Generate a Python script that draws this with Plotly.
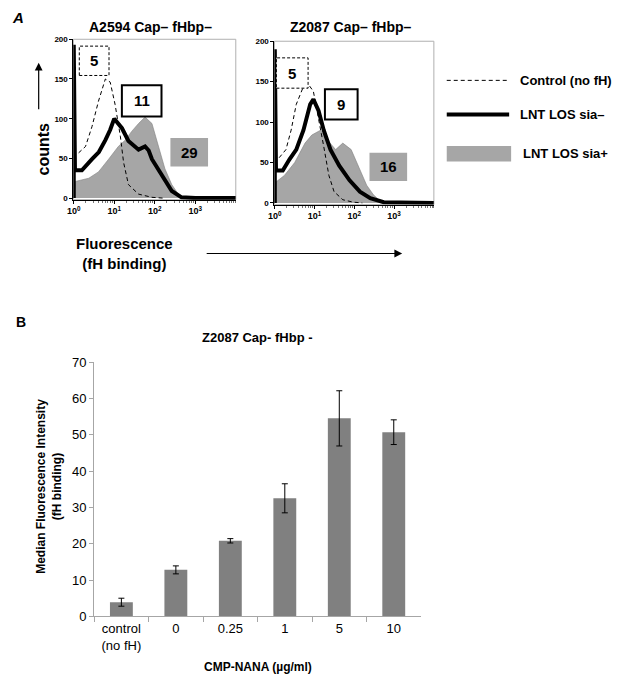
import numpy as np
import plotly.graph_objects as go

# ---- Panel A: flow cytometry histograms (x = log10 fluorescence decade, y = counts) ----
# A2594 Cap- fHbp-
sia_neg_L_pos = [0, 0, 0.03, 0.2, 0.45, 0.62, 0.78, 0.9, 1.0, 1.1, 1.19, 1.35, 1.5, 1.6, 1.76, 1.85, 1.93, 2.17, 2.42, 2.66, 3.0, 4.0]
sia_neg_L_cnt = [0, 193, 35, 35, 49, 58, 73, 86, 100, 94, 88, 72, 66, 61, 65, 60, 49, 29, 9, 1, 0, 0]
ctrl_L_pos = [0.12, 0.29, 0.45, 0.61, 0.78, 0.9, 1.02, 1.15, 1.23, 1.35, 1.6, 1.93, 2.2]
ctrl_L_cnt = [57, 65, 90, 122, 150, 146, 118, 78, 45, 17, 5, 1, 0]
sia_pos_L_pos = [0, 0.04, 0.37, 0.61, 0.86, 1.1, 1.27, 1.43, 1.6, 1.76, 1.93, 2.09, 2.25, 2.42, 2.58, 2.75]
sia_pos_L_cnt = [0, 21, 25, 33, 49, 65, 73, 84, 94, 102, 94, 65, 37, 17, 5, 0]

# Z2087 Cap- fHbp-
sia_neg_R_pos = [0, 0, 0.03, 0.2, 0.37, 0.54, 0.72, 0.89, 0.97, 1.1, 1.23, 1.4, 1.62, 1.88, 2.14, 2.4, 2.74, 4.0]
sia_neg_R_cnt = [0, 190, 40, 40, 54, 66, 90, 122, 128, 114, 90, 66, 46, 28, 14, 6, 1, 0]
ctrl_R_pos = [0.11, 0.28, 0.41, 0.54, 0.72, 0.84, 0.97, 1.1, 1.23, 1.36, 1.49, 1.71, 1.97, 2.2]
ctrl_R_cnt = [56, 66, 90, 122, 144, 147, 138, 106, 70, 34, 14, 4, 1, 0]
sia_pos_R_pos = [0, 0.03, 0.24, 0.5, 0.76, 0.93, 1.15, 1.32, 1.53, 1.71, 1.92, 2.14, 2.31, 2.48, 2.66, 2.8]
sia_pos_R_cnt = [0, 26, 34, 50, 74, 84, 90, 78, 66, 74, 66, 42, 22, 10, 2, 0]

median_L = ["5", "11", "29"]
median_R = ["5", "9", "16"]
decade_ticks = [1, 10, 100, 1000]
decade_labels = ["10<sup>0</sup>", "10<sup>1</sup>", "10<sup>2</sup>", "10<sup>3</sup>"]

# ---- Panel B: bar chart ----
cmp_nana = ["control<br>(no fH)", "0", "0.25", "1", "5", "10"]
mfi = [3.9, 12.8, 20.8, 32.5, 54.5, 50.7]
mfi_err = [1.1, 1.1, 0.6, 4.0, 7.6, 3.4]

W, H = 628, 686
FONT = "Arial, Liberation Sans, sans-serif"
GRAY_FILL = "#a6a6a6"


def px(x):
    return x / W


def py(y):
    return 1 - y / H


fig = go.Figure()


def add_hist(xa, ya, pos_neg, cnt_neg, pos_ctrl, cnt_ctrl, pos_pos, cnt_pos):
    fig.add_trace(go.Scatter(x=np.power(10.0, pos_pos), y=cnt_pos, mode="lines",
                             fill="tozeroy", fillcolor=GRAY_FILL,
                             line=dict(color="#808080", width=0.6),
                             xaxis=xa, yaxis=ya, showlegend=False, hoverinfo="skip"))
    fig.add_trace(go.Scatter(x=np.power(10.0, pos_ctrl), y=cnt_ctrl, mode="lines",
                             line=dict(color="black", width=1, dash="4px,3px"),
                             xaxis=xa, yaxis=ya, showlegend=False, hoverinfo="skip"))
    fig.add_trace(go.Scatter(x=np.power(10.0, pos_neg), y=cnt_neg, mode="lines",
                             line=dict(color="black", width=4),
                             xaxis=xa, yaxis=ya, showlegend=False, hoverinfo="skip"))


add_hist("x", "y", sia_neg_L_pos, sia_neg_L_cnt, ctrl_L_pos, ctrl_L_cnt, sia_pos_L_pos, sia_pos_L_cnt)
add_hist("x2", "y2", sia_neg_R_pos, sia_neg_R_cnt, ctrl_R_pos, ctrl_R_cnt, sia_pos_R_pos, sia_pos_R_cnt)

fig.add_trace(go.Bar(x=cmp_nana, y=mfi, marker=dict(color="#808080", line=dict(width=0)),
                     width=0.42,
                     error_y=dict(type="data", array=mfi_err, color="black", thickness=1, width=3),
                     xaxis="x3", yaxis="y3", showlegend=False))

hist_x = dict(type="log", range=[-0.01, 4], tickmode="array", tickvals=decade_ticks,
              ticktext=decade_labels, ticks="outside", ticklen=3, tickcolor="black",
              showline=True, linecolor="black", linewidth=1, showgrid=False, zeroline=False,
              tickfont=dict(family=FONT, size=9, color="black", weight="bold"),
              minor=dict(ticks="outside", ticklen=2, tickcolor="#777", dtick="D1", showgrid=False))
hist_y = dict(range=[-2, 200], tickvals=[0, 50, 100, 150, 200], ticks="outside", ticklen=3,
              tickcolor="black", showline=True, linecolor="black", linewidth=1,
              showgrid=False, zeroline=False,
              tickfont=dict(family=FONT, size=8, color="black", weight="bold"))

fig.update_layout(
    width=W, height=H, margin=dict(l=0, r=0, t=0, b=0),
    paper_bgcolor="white", plot_bgcolor="white",
    font=dict(family=FONT, color="black"),
    xaxis=dict(hist_x, domain=[px(68), px(232)], anchor="y"),
    yaxis=dict(hist_y, domain=[py(197), py(33)], anchor="x"),
    xaxis2=dict(hist_x, domain=[px(271), px(432)], anchor="y2"),
    yaxis2=dict(hist_y, domain=[py(202), py(35)], anchor="x2"),
    xaxis3=dict(domain=[px(89), px(419)], anchor="y3", type="category",
                showline=True, linecolor="#a6a6a6", linewidth=1,
                ticks="outside", tickson="boundaries", ticklen=5, tickcolor="#a6a6a6",
                tickfont=dict(family=FONT, size=13, color="black"), showgrid=False),
    yaxis3=dict(domain=[py(623), py(363)], anchor="x3", range=[0, 70], dtick=10,
                showline=True, linecolor="#a6a6a6", linewidth=1,
                ticks="outside", ticklen=4, tickcolor="#a6a6a6", showgrid=False, zeroline=False,
                tickfont=dict(family=FONT, size=13, color="black")),
    bargap=0.58,
)

shapes = []
# thin gray frames around the histogram panels
for xr, yr in [("x domain", "y domain"), ("x2 domain", "y2 domain")]:
    shapes.append(dict(type="rect", xref=xr, yref=yr, x0=0, x1=1, y0=0, y1=1,
                       line=dict(color="#b0b0b0", width=1), layer="below"))

# median value boxes
boxes = [
    # (x0, y0, x1, y1, style, text)
    (74, 40, 104, 70, "dash", median_L[0]),
    (117, 80, 157, 112, "solid", median_L[1]),
    (166, 134, 204, 163, "gray", median_L[2]),
    (273, 52, 305, 83, "dash", median_R[0]),
    (322, 84, 355, 115, "solid", median_R[1]),
    (367, 149, 405, 178, "gray", median_R[2]),
]
annotations = []
for x0, y0, x1, y1, style, txt in boxes:
    if style == "dash":
        line = dict(color="black", width=1, dash="3px,2px")
        fill = "white"
    elif style == "solid":
        line = dict(color="black", width=2)
        fill = "white"
    else:
        line = dict(width=0)
        fill = GRAY_FILL
    shapes.append(dict(type="rect", xref="paper", yref="paper",
                       x0=px(x0), x1=px(x1), y0=py(y1), y1=py(y0),
                       line=line, fillcolor=fill))
    annotations.append(dict(x=px((x0 + x1) / 2), y=py((y0 + y1) / 2),
                            text=f"<b>{txt}</b>", font=dict(size=15, color="black")))

# legend (drawn by hand)
shapes.append(dict(type="line", xref="paper", yref="paper", x0=px(445), x1=px(508),
                   y0=py(75), y1=py(75), line=dict(color="black", width=1, dash="4px,3px")))
shapes.append(dict(type="line", xref="paper", yref="paper", x0=px(445), x1=px(508),
                   y0=py(110), y1=py(110), line=dict(color="black", width=4)))
shapes.append(dict(type="rect", xref="paper", yref="paper", x0=px(445), x1=px(510),
                   y0=py(158), y1=py(142), line=dict(width=0), fillcolor=GRAY_FILL))
for ty, tx, txt in [(75, 517, "Control (no fH)"), (110, 517, "LNT LOS sia–"), (150, 520, "LNT LOS sia+")]:
    annotations.append(dict(x=px(tx), y=py(ty), xanchor="left",
                            text=f"<b>{txt}</b>", font=dict(size=13)))

# panel labels and titles
annotations += [
    dict(x=px(4), y=py(11), xanchor="left", text="<b><i>A</i></b>", font=dict(size=15)),
    dict(x=px(146), y=py(20), text="<b>A2594 Cap– fHbp–</b>", font=dict(size=14)),
    dict(x=px(348), y=py(20), text="<b>Z2087 Cap– fHbp–</b>", font=dict(size=14)),
    dict(x=px(38), y=py(145), text="<b>counts</b>", textangle=-90, font=dict(size=16)),
    dict(x=px(120), y=py(252), text="<b>Fluorescence<br>(fH binding)</b>", font=dict(size=15)),
    dict(x=px(8), y=py(322), xanchor="left", text="<b>B</b>", font=dict(size=14)),
    dict(x=px(254), y=py(338), text="<b>Z2087 Cap- fHbp -</b>", font=dict(size=13)),
    dict(x=px(44), y=py(490), text="<b>Median Fluorescence Intensity<br>(fH binding)</b>",
         textangle=-90, font=dict(size=12)),
    dict(x=px(254), y=py(675), text="<b>CMP-NANA (µg/ml)</b>", font=dict(size=12)),
]
for a in annotations:
    a.setdefault("xref", "paper")
    a.setdefault("yref", "paper")
    a.setdefault("xanchor", "center")
    a.setdefault("yanchor", "middle")
    a.setdefault("showarrow", False)

# axis arrows
annotations.append(dict(xref="paper", yref="paper", x=px(33), y=py(57), ax=0, ay=48,
                        text="", showarrow=True, arrowhead=2, arrowsize=1.3, arrowwidth=1.2,
                        arrowcolor="black"))
annotations.append(dict(xref="paper", yref="paper", x=px(400), y=py(252), ax=-197, ay=0,
                        text="", showarrow=True, arrowhead=2, arrowsize=1.3, arrowwidth=1.2,
                        arrowcolor="black"))

fig.update_layout(shapes=shapes, annotations=annotations)

fig.write_html("out.html", config={"displayModeBar": False},
               post_script="document.body.style.margin='0';")
